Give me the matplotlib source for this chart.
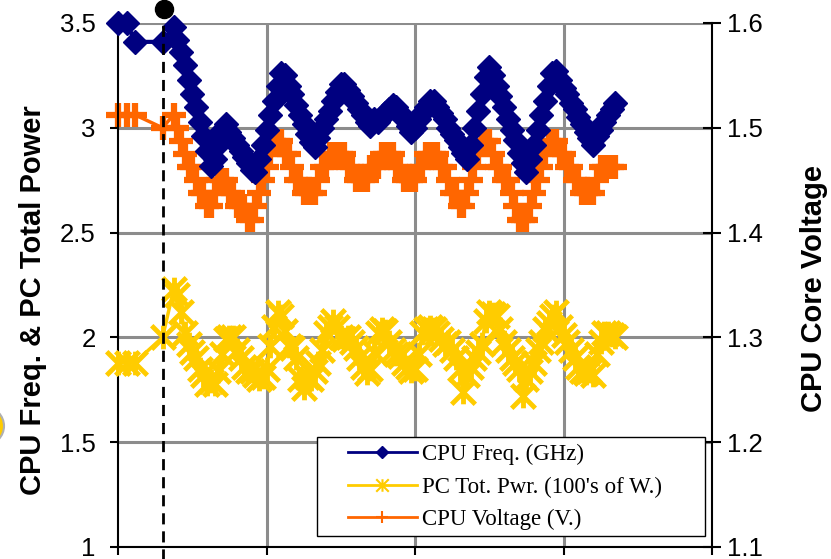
import numpy as np
import matplotlib
matplotlib.use("Agg")
import matplotlib.pyplot as plt
from matplotlib.lines import Line2D
from matplotlib.path import Path
from matplotlib.patches import Rectangle, Ellipse

plt.rcParams['font.family'] = ['Liberation Sans', 'DejaVu Sans']

# sample times (first few samples are sparse, then one per unit)
t_early = [0, 2.5, 4.5, 12]
t_main = np.arange(15, 135)
t = np.concatenate([t_early, t_main])

# CPU frequency (GHz), left axis
freq = [3.50, 3.50, 3.41, 3.41,
        3.48, 3.42, 3.36, 3.30, 3.23, 3.16, 3.10, 3.03, 2.96, 2.89,
        2.82, 2.85, 2.92, 2.99, 3.02, 2.98, 2.95, 2.92, 2.89, 2.86,
        2.83, 2.80, 2.79, 2.85, 2.92, 2.99, 3.06, 3.13, 3.20, 3.26,
        3.25, 3.20, 3.16, 3.11, 3.06, 3.02, 2.97, 2.93, 2.91, 2.95,
        3.00, 3.04, 3.08, 3.13, 3.17, 3.21, 3.21, 3.18, 3.15, 3.12,
        3.09, 3.06, 3.03, 3.01, 3.04, 3.03, 3.05, 3.07, 3.09, 3.11,
        3.10, 3.07, 3.04, 3.01, 2.98, 3.00, 3.04, 3.07, 3.10, 3.13,
        3.13, 3.10, 3.07, 3.04, 3.00, 2.97, 2.94, 2.91, 2.88, 2.85,
        2.92, 3.00, 3.08, 3.16, 3.24, 3.29, 3.25, 3.20, 3.15, 3.10,
        3.04, 2.99, 2.94, 2.88, 2.83, 2.79, 2.85, 2.92, 2.99, 3.06,
        3.13, 3.20, 3.26, 3.27, 3.23, 3.19, 3.16, 3.12, 3.09, 3.05,
        3.02, 2.98, 2.95, 2.92, 2.96, 2.99, 3.03, 3.06, 3.09, 3.12]

# PC total power (100's of W), left axis
power = [1.88, 1.88, 1.88, 2.00,
         2.23, 2.20, 2.12, 2.02, 1.97, 1.93, 1.90, 1.85, 1.82, 1.78,
         1.79, 1.78, 1.84, 1.92, 1.99, 2.00, 2.00, 1.94, 1.90, 1.86,
         1.84, 1.84, 1.82, 1.80, 1.81, 1.85, 1.96, 2.05, 2.12, 2.10,
         2.03, 1.96, 1.95, 1.90, 1.80, 1.76, 1.81, 1.80, 1.84, 1.88,
         1.94, 2.02, 2.05, 2.08, 2.05, 2.00, 1.99, 2.00, 1.98, 1.95,
         1.90, 1.86, 1.83, 1.85, 1.93, 2.02, 2.04, 2.03, 1.98, 1.94,
         1.92, 1.91, 1.88, 1.86, 1.84, 1.85, 1.92, 2.02, 2.04, 2.05,
         2.04, 2.02, 1.99, 1.97, 1.98, 1.94, 1.90, 1.85, 1.74, 1.82,
         1.86, 1.90, 1.93, 1.97, 2.08, 2.12, 2.11, 2.10, 2.04, 1.98,
         1.94, 1.90, 1.88, 1.85, 1.72, 1.80, 1.84, 1.88, 1.94, 1.98,
         2.04, 2.07, 2.10, 2.12, 2.05, 2.01, 1.98, 1.94, 1.90, 1.86,
         1.84, 1.83, 1.84, 1.82, 1.92, 1.98, 2.02, 2.02, 2.01, 2.00]

# CPU core voltage (V), right axis
volt = [1.5125, 1.5125, 1.5125, 1.5,
        1.5125, 1.5, 1.4875, 1.475, 1.4625, 1.4625, 1.45, 1.4375, 1.4375, 1.425,
        1.425, 1.4375, 1.45, 1.45, 1.45, 1.4375, 1.4375, 1.425, 1.425, 1.425,
        1.4125, 1.4125, 1.425, 1.4375, 1.45, 1.4625, 1.475, 1.4875, 1.4875, 1.4875,
        1.475, 1.475, 1.4625, 1.45, 1.45, 1.4375, 1.4375, 1.4375, 1.4375, 1.45,
        1.4625, 1.4625, 1.475, 1.475, 1.475, 1.475, 1.475, 1.4625, 1.4625, 1.45,
        1.45, 1.45, 1.45, 1.4625, 1.4625, 1.4625, 1.475, 1.475, 1.475, 1.475,
        1.4625, 1.4625, 1.45, 1.45, 1.45, 1.45, 1.4625, 1.4625, 1.475, 1.475,
        1.475, 1.475, 1.4625, 1.4625, 1.45, 1.4375, 1.4375, 1.425, 1.425, 1.4375,
        1.45, 1.4625, 1.475, 1.4875, 1.4875, 1.4875, 1.475, 1.4625, 1.4625, 1.45,
        1.45, 1.4375, 1.425, 1.4125, 1.4125, 1.4125, 1.425, 1.4375, 1.45, 1.4625,
        1.475, 1.4875, 1.4875, 1.4875, 1.475, 1.475, 1.4625, 1.4625, 1.45, 1.45,
        1.4375, 1.4375, 1.4375, 1.4375, 1.45, 1.4625, 1.4625, 1.4625, 1.4625, 1.4625]

left_ticks = [1, 1.5, 2, 2.5, 3, 3.5]
left_labels = ['1', '1.5', '2', '2.5', '3', '3.5']
right_ticks = [1.1, 1.2, 1.3, 1.4, 1.5, 1.6]
right_labels = ['1.1', '1.2', '1.3', '1.4', '1.5', '1.6']
x_ticks = [0, 40, 80, 120, 160]
marker_time = 12

navy = '#000080'
gold = '#FFCC00'
orange = '#FF6600'
grid_c = '#8c8c8c'

# excel-style asterisk: an X with a vertical bar
star = Path([(-1, -1), (1, 1), (-1, 1), (1, -1), (0, -1), (0, 1)],
            [Path.MOVETO, Path.LINETO] * 3)

W, H = 831, 559
fig = plt.figure(figsize=(W / 100, H / 100), dpi=100)
L, R, T, B = 118, 712, 23, 547
ax = fig.add_axes([L / W, 1 - B / H, (R - L) / W, (B - T) / H])
ax2 = ax.twinx()
ax.set_zorder(ax2.get_zorder() + 1)
ax.patch.set_visible(False)

ax2.set_axisbelow(True)
ax2.yaxis.grid(True, color=grid_c, lw=2.2)
for xv in x_ticks[1:-1]:
    ax2.axvline(xv, color=grid_c, lw=2.2, zorder=0)

ax2.plot(t, volt, color=orange, lw=2.5, marker='+', ms=17, mew=4.5, zorder=3, clip_on=False)
ax.plot(t, power, color=gold, lw=2.5, marker=star, ms=17, mew=3.5, zorder=3, clip_on=False)
ax.plot(t, freq, color=navy, lw=3, marker='D', ms=12, mec=navy, mfc=navy, zorder=4,
        clip_on=False)

ax.set_xlim(0, 160)
ax.set_ylim(1, 3.5)
ax2.set_ylim(1.1, 1.6)
ax.set_xticks(x_ticks)
ax.set_xticklabels([])
ax.set_yticks(left_ticks)
ax.set_yticklabels(left_labels)
ax2.set_yticks(right_ticks)
ax2.set_yticklabels(right_labels)

for s in ['top', 'right']:
    ax.spines[s].set_visible(False)
for s in ['top', 'left', 'bottom']:
    ax2.spines[s].set_visible(False)
for sp in [ax.spines['left'], ax.spines['bottom'], ax2.spines['right']]:
    sp.set_linewidth(1.5)
    sp.set_color('black')

ax.tick_params(axis='y', direction='out', length=6, width=1.5, pad=10, labelsize=18.5)
ax.tick_params(axis='x', direction='out', length=6, width=1.5)
ax2.tick_params(axis='y', direction='inout', length=13, width=1.5, pad=4, labelsize=18.5)

# event marker
ax.axvline(marker_time, ymin=-0.05, ymax=1.027, color='black', lw=2,
           ls=(0, (4, 2.5)), clip_on=False, zorder=10)
ax.plot([marker_time + 0.5], [3.567], 'o', color='black', ms=13, clip_on=False, zorder=11)

fig.text(33 / W, 1 - 300 / H, 'CPU Freq. & PC Total Power', rotation=90,
         ha='center', va='center', fontsize=21, fontweight='bold')
fig.text(814 / W, 1 - 289 / H, 'CPU Core Voltage', rotation=90,
         ha='center', va='center', fontsize=21, fontweight='bold')

# legend box
box = Rectangle((317 / W, 1 - 536 / H), (705 - 317) / W, 99 / H, transform=fig.transFigure,
                facecolor='white', edgecolor='black', lw=1, zorder=20, clip_on=False)
ax.add_patch(box)
handles = [Line2D([], [], color=navy, lw=2, marker='D', ms=6.3),
           Line2D([], [], color=gold, lw=2, marker=star, ms=9, mew=1.5),
           Line2D([], [], color=orange, lw=2, marker='+', ms=9, mew=1.5)]
labels = ['CPU Freq. (GHz)', "PC Tot. Pwr. (100's of W.)", 'CPU Voltage (V.)']
leg = ax.legend(handles, labels, loc='upper left', bbox_to_anchor=(348 / W, 1 - 444 / H),
                bbox_transform=fig.transFigure, frameon=False, borderpad=0, borderaxespad=0,
                handlelength=3.0, handletextpad=0.22, labelspacing=0.5,
                prop={'family': 'Liberation Serif', 'size': 16.5})
leg.set_zorder(21)

# partial circle at left edge
fig.add_artist(Ellipse((-15 / W, 1 - 426 / H), 38 / W, 38 / H, transform=fig.transFigure,
                       facecolor=gold, edgecolor='#b0b0b0', lw=1.5))

fig.savefig('out.png', dpi=100)
